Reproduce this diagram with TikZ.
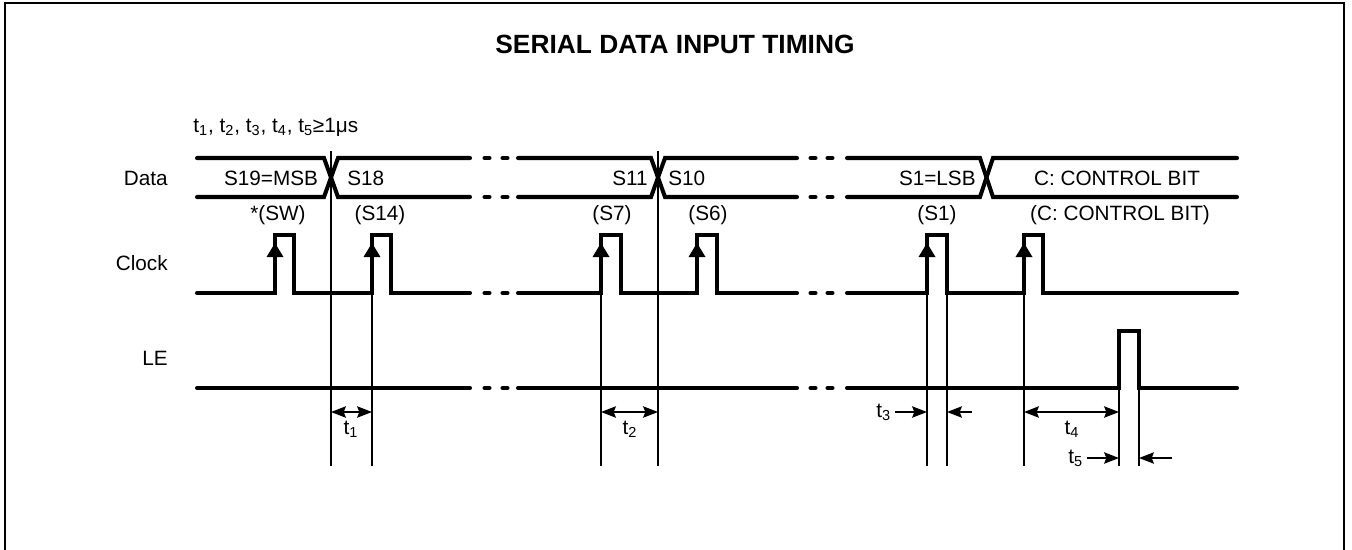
\documentclass[tikz,border=0pt]{standalone}
\usepackage{fontspec}
\setmainfont{Liberation Sans}
\usetikzlibrary{arrows.meta,positioning}

\tikzset{
  wave/.style={line width=2.3pt, line cap=round, line join=miter},
  guide/.style={line width=0.8pt},
  dim/.style={line width=0.8pt, {Stealth[length=8.5pt,width=6.5pt,inset=1.3pt]}-{Stealth[length=8.5pt,width=6.5pt,inset=1.3pt]}},
  ar/.style={line width=0.8pt, -{Stealth[length=8.5pt,width=6.5pt,inset=1.3pt]}},
  lbl/.style={inner sep=0pt, font=\fontsize{11.8}{14}\selectfont},
}

\begin{document}
\begin{tikzpicture}[x=0.02cm, y=-0.02cm]
    \useasboundingbox (0,0) rectangle (1352,549);
    % frame and title
    \draw[line width=1.2pt] (5,555) -- (5,3) -- (1344,3) -- (1344,555);
    \node[inner sep=0pt, font=\bfseries\fontsize{15}{18}\selectfont] (title) at (675,44) {SERIAL DATA INPUT TIMING};
    \node[lbl, anchor=west] (cond) at (193,127) {t\textsubscript{1}, t\textsubscript{2}, t\textsubscript{3}, t\textsubscript{4}, t\textsubscript{5}≥1μs};

    % signal names
    \node[lbl, anchor=east] (data) at (168,178) {Data};
    \node[lbl, anchor=east] (clock) at (168,263) {Clock};
    \node[lbl, anchor=east] (le) at (168,358) {LE};

    % data bus
    \draw[wave] (197,158) -- (324,158) -- (338,197) -- (470,197);
    \draw[wave] (197,197) -- (324,197) -- (338,158) -- (470,158);
    \draw[wave] (518,158) -- (651,158) -- (665,197) -- (797,197);
    \draw[wave] (518,197) -- (651,197) -- (665,158) -- (797,158);
    \draw[wave] (847,158) -- (980,158) -- (993,197) -- (1237,197);
    \draw[wave] (847,197) -- (980,197) -- (993,158) -- (1237,158);
    \node[lbl] (s19) at (271,178) {S19=MSB};
    \node[lbl, anchor=west] (s18) at (347,178) {S18};
    \node[lbl, anchor=east] (s11) at (648,178) {S11};
    \node[lbl, anchor=west] (s10) at (668,178) {S10};
    \node[lbl, anchor=east] (s1) at (976,178) {S1=LSB};
    \node[lbl] (cbit) at (1117,178) {C: CONTROL BIT};

    % clock
    \draw[wave] (197,293) -- (275,293) -- (275,235) -- (294,235) -- (294,293) -- (372,293) -- (372,235) -- (391,235) -- (391,293) -- (470,293);
    \draw[wave] (518,293) -- (601,293) -- (601,235) -- (621,235) -- (621,293) -- (697,293) -- (697,235) -- (717,235) -- (717,293) -- (797,293);
    \draw[wave] (847,293) -- (927,293) -- (927,235) -- (947,235) -- (947,293) -- (1024,293) -- (1024,235) -- (1043,235) -- (1043,293) -- (1237,293);
    \foreach \x in {275,372,601,697,927,1024}
        \fill (\x-8.5,257) -- (\x,243) -- (\x+8.5,257) -- cycle;
    \node[lbl] (csw) at (278,215) {*(SW)};
    \node[lbl] (c14) at (380,215) {(S14)};
    \node[lbl] (c7) at (612,215) {(S7)};
    \node[lbl] (c6) at (708,215) {(S6)};
    \node[lbl] (c1) at (937,215) {(S1)};
    \node[lbl] (cc) at (1120,215) {(C: CONTROL BIT)};

    % LE
    \draw[wave] (197,388) -- (470,388);
    \draw[wave] (518,388) -- (797,388);
    \draw[wave] (847,388) -- (1119,388) -- (1119,331) -- (1139,331) -- (1139,388) -- (1237,388);

    % breaks
    \foreach \y in {158,197,293,388}
        \foreach \x in {487,505,813,830}
            \draw[wave] (\x-2.5,\y) -- (\x+2.5,\y);

    % guide lines
    \foreach \x in {331,658}
        \draw[guide] (\x,151) -- (\x,466);
    \foreach \x in {372,601,927,947,1024}
        \draw[guide] (\x,293) -- (\x,466);
    \foreach \x in {1119,1139}
        \draw[guide] (\x,388) -- (\x,466);

    % timing marks
    \coordinate (t1a) at (331,412);
    \coordinate (t1b) at (372,412);
    \coordinate (t2a) at (601,412);
    \coordinate (t2b) at (658,412);
    \coordinate (t3a) at (895,412);
    \coordinate (t3b) at (927,412);
    \coordinate (t3c) at (972,412);
    \coordinate (t3d) at (947,412);
    \coordinate (t4a) at (1024,412);
    \coordinate (t4b) at (1119,412);
    \coordinate (t5a) at (1087,458);
    \coordinate (t5b) at (1119,458);
    \coordinate (t5c) at (1172,458);
    \coordinate (t5d) at (1139,458);
    \draw[dim] (t1a) -- (t1b);
    \draw[dim] (t2a) -- (t2b);
    \draw[ar] (t3a) -- (t3b);
    \draw[ar] (t3c) -- (t3d);
    \draw[dim] (t4a) -- (t4b);
    \draw[ar] (t5a) -- (t5b);
    \draw[ar] (t5c) -- (t5d);
    \node[lbl] (t1) at (351,429) {t\textsubscript{1}};
    \node[lbl] (t2) at (630,429) {t\textsubscript{2}};
    \node[lbl, left=2pt of t3a] (t3) {t\textsubscript{3}};
    \node[lbl] (t4) at (1072,429) {t\textsubscript{4}};
    \node[lbl, left=2pt of t5a] (t5) {t\textsubscript{5}};
\end{tikzpicture}
\end{document}
